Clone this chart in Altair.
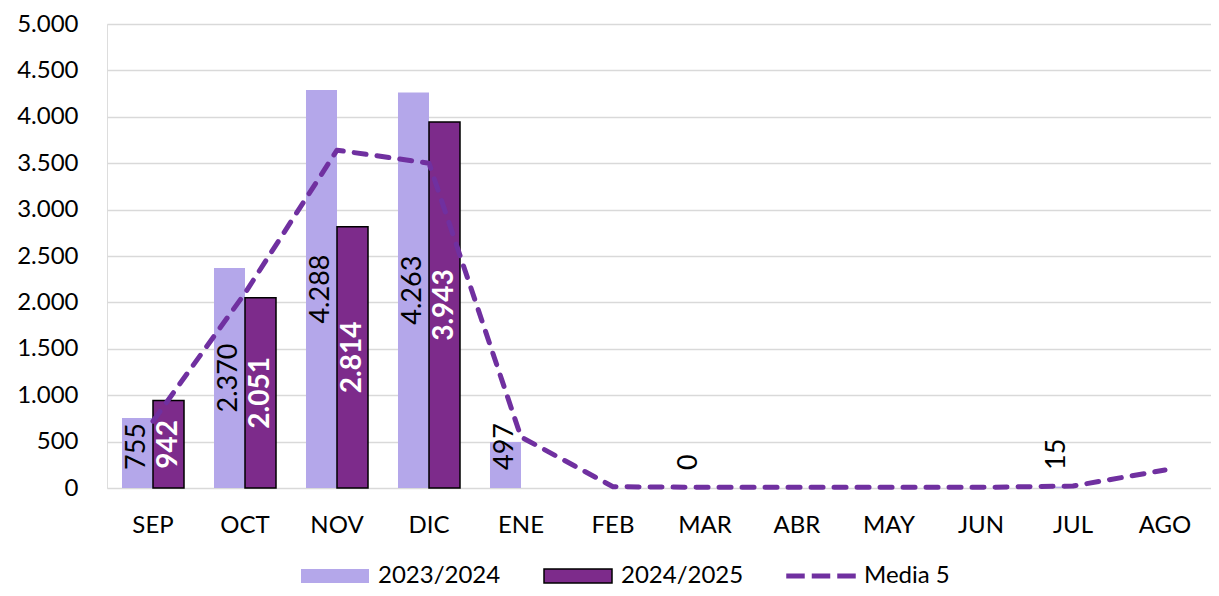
import altair as alt
import pandas as pd

months = ["SEP", "OCT", "NOV", "DIC", "ENE", "FEB", "MAR", "ABR", "MAY", "JUN", "JUL", "AGO"]
s2324 = [755, 2370, 4288, 4263, 497, None, 0, None, None, None, 15, None]
s2425 = [942, 2051, 2814, 3943, None, None, None, None, None, None, None, None]
media5 = [720, 2100, 3640, 3500, 550, 14, 7, 7, 7, 7, 21, 194]
series_names = ["2023/2024", "2024/2025", "Media 5"]
colors = ["#b4a7ea", "#7d2b8b", "#7030a0"]
y_ticks = list(range(0, 5001, 500))

rows = []
for m, a, b in zip(months, s2324, s2425):
    rows.append({"mes": m, "serie": series_names[0], "valor": a})
    rows.append({"mes": m, "serie": series_names[1], "valor": b})
bars_df = pd.DataFrame(rows)
line_df = pd.DataFrame({"mes": months, "serie": series_names[2], "valor": media5})
legend_df = pd.DataFrame({"serie": series_names})

FONT = "Lato"
RECT = "M-1,-0.206H1V0.206H-1Z"
DASHES = ("M-1,-0.05H-0.5V0.05H-1Z"
          "M-0.25,-0.05H0.25V0.05H-0.25Z"
          "M0.5,-0.05H1V0.05H0.5Z")

x_enc = alt.X(
    "mes:N",
    sort=months,
    scale=alt.Scale(domain=months, paddingInner=0.326, paddingOuter=0.163),
    axis=alt.Axis(title=None, labelAngle=0, domain=False, ticks=False,
                  labelFontSize=24, labelPadding=25, labelColor="black", labelFont=FONT),
)
xoff = alt.XOffset("serie:N", scale=alt.Scale(domain=series_names[:2], paddingInner=0, paddingOuter=0))

# colour scale (domain listed in another order so that it is not merged with the legend's shape scale)
color_scale = alt.Scale(domain=[series_names[2], series_names[0], series_names[1]],
                        range=[colors[2], colors[0], colors[1]])
color_nolegend = alt.Color("serie:N", scale=color_scale, legend=None)

legend = alt.Legend(
    title=None, orient="none", legendX=193, legendY=517, direction="horizontal",
    symbolSize=4624, symbolOpacity=1, symbolStrokeWidth=1.5,
    labelFontSize=24, labelFont=FONT, labelColor="black", labelOffset=8, columnPadding=40,
)

y_axis = alt.Axis(
    values=y_ticks, labelExpr="replace(format(datum.value, ','), ',', '.')",
    grid=True, gridColor="#d9d9d9", gridWidth=1.5, domain=False, ticks=False,
    labelFontSize=24, labelPadding=29, title=None, labelColor="black", labelFont=FONT,
)
y_scale = alt.Scale(domain=[0, 5000])

bars = alt.Chart(bars_df).mark_bar(strokeWidth=1.5).encode(
    x=x_enc, xOffset=xoff,
    y=alt.Y("valor:Q", scale=y_scale, axis=y_axis),
    color=color_nolegend,
    stroke=alt.condition("datum.serie === '2024/2025'", alt.value("black"), alt.value("transparent")),
)

line = alt.Chart(line_df).mark_line(
    strokeDash=[12, 11], strokeWidth=5, strokeCap="round", strokeJoin="round"
).encode(x=x_enc, y=alt.Y("valor:Q", scale=y_scale), color=color_nolegend)

# legend-only layer: no rows are drawn, its styles are read per legend entry (datum.value)
legend_layer = alt.Chart(legend_df).transform_filter("false").mark_point(
    filled=True,
    fill=alt.ExprRef(expr="datum.value === '2023/2024' ? '#b4a7ea' : datum.value === '2024/2025' ? '#7d2b8b' : '#7030a0'"),
    stroke=alt.ExprRef(expr="datum.value === '2024/2025' ? 'black' : datum.value === 'Media 5' ? '#7030a0' : 'transparent'"),
).encode(
    shape=alt.Shape("serie:N", scale=alt.Scale(domain=series_names, range=[RECT, RECT, DASHES]), legend=legend),
)

small_lbl = alt.Chart(bars_df).transform_filter(
    "datum.valor != null && datum.serie === '2023/2024' && datum.valor < 800"
).transform_calculate(base="0").mark_text(
    angle=270, align="left", baseline="middle", dx=18, fontSize=27, font=FONT, color="black"
).encode(
    x=x_enc, xOffset=xoff, y=alt.Y("base:Q", scale=y_scale),
    text=alt.Text("valor:Q", format=",d"),
)

big_lbl_a = alt.Chart(bars_df).transform_filter(
    "datum.valor != null && datum.serie === '2023/2024' && datum.valor >= 800"
).transform_calculate(mid="datum.valor / 2", lbl="replace(format(datum.valor, ','), ',', '.')").mark_text(
    angle=270, align="center", baseline="middle", fontSize=27, font=FONT, color="black"
).encode(x=x_enc, xOffset=xoff, y=alt.Y("mid:Q", scale=y_scale), text="lbl:N")

big_lbl_b = alt.Chart(bars_df).transform_filter(
    "datum.valor != null && datum.serie === '2024/2025'"
).transform_calculate(mid="datum.valor / 2", lbl="replace(format(datum.valor, ','), ',', '.')").mark_text(
    angle=270, align="center", baseline="middle", fontSize=28, fontWeight="bold", font=FONT, color="white"
).encode(x=x_enc, xOffset=xoff, y=alt.Y("mid:Q", scale=y_scale), text="lbl:N")

chart = alt.layer(bars, line, legend_layer, small_lbl, big_lbl_a, big_lbl_b).properties(
    width=1104, height=464,
    autosize=alt.AutoSizeParams(type="none"),
    padding={"left": 99, "top": 16, "right": 0, "bottom": 100},
).configure_view(strokeWidth=0).configure(font=FONT)

chart.save("out.html", embed_options={"renderer": "svg", "actions": False})
